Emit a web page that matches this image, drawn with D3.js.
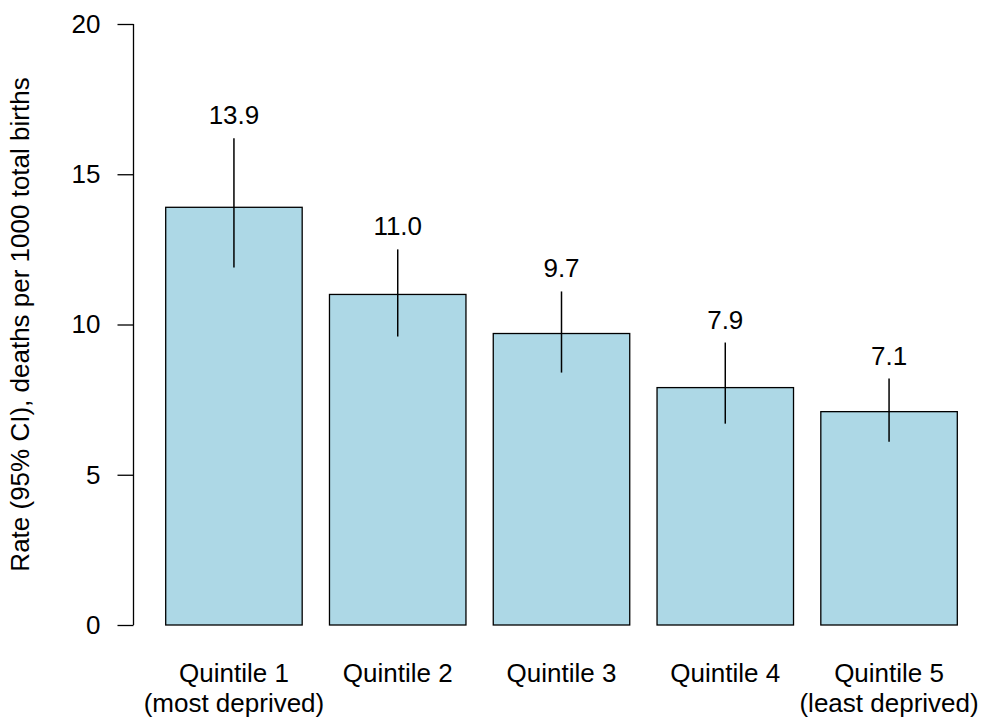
<!DOCTYPE html>
<html>
<head>
<meta charset="utf-8">
<script src="https://cdn.jsdelivr.net/npm/d3@7"></script>
<style>
  html, body { margin: 0; padding: 0; background: #fff; }
  svg text { font-family: "Liberation Sans", Arial, sans-serif; fill: #000; }
</style>
</head>
<body>
<svg id="chart" width="994" height="725"></svg>
<script>
const categories = ["Quintile 1\n(most deprived)", "Quintile 2", "Quintile 3", "Quintile 4", "Quintile 5\n(least deprived)"];
const rates = [13.9, 11.0, 9.7, 7.9, 7.1];
const lowerCI = [11.9, 9.6, 8.4, 6.7, 6.1];
const upperCI = [16.2, 12.5, 11.1, 9.4, 8.2];
const rateLabels = ["13.9", "11.0", "9.7", "7.9", "7.1"];
const yTicks = [0, 5, 10, 15, 20];
const yTitle = "Rate (95% CI), deaths per 1000 total births";

const svg = d3.select("#chart");
const fontSize = 26;

const x = d3.scaleBand()
  .domain(d3.range(categories.length))
  .range([165.7, 957.3])
  .paddingInner(1 / 6)
  .paddingOuter(0);

const y = d3.scaleLinear().domain([0, 20]).range([625, 24]);

// y axis
const yAxis = d3.axisLeft(y).tickValues(yTicks).tickSize(16).tickPadding(17).tickFormat(d3.format("d"));
const gy = svg.append("g").attr("transform", "translate(133.5,0)").call(yAxis);
gy.select(".domain").attr("d", `M0,${y(0)}V${y(20)}`).attr("stroke", "#000").attr("stroke-width", 1.3);
gy.selectAll(".tick line").attr("stroke", "#000").attr("stroke-width", 1.3);
gy.selectAll(".tick text").attr("font-size", fontSize).attr("font-family", "Liberation Sans, Arial, sans-serif").attr("fill", "#000");

// y title
svg.append("text")
  .attr("transform", `translate(29,${(y(0) + y(20)) / 2}) rotate(-90)`)
  .attr("text-anchor", "middle")
  .attr("font-size", fontSize)
  .text(yTitle);

// bars
svg.append("g").selectAll("rect")
  .data(rates)
  .join("rect")
  .attr("x", (d, i) => x(i))
  .attr("y", d => y(d))
  .attr("width", x.bandwidth())
  .attr("height", d => y(0) - y(d))
  .attr("fill", "#ADD8E6")
  .attr("stroke", "#000")
  .attr("stroke-width", 1.3);

// error bars
svg.append("g").selectAll("line")
  .data(rates)
  .join("line")
  .attr("x1", (d, i) => x(i) + x.bandwidth() / 2)
  .attr("x2", (d, i) => x(i) + x.bandwidth() / 2)
  .attr("y1", (d, i) => y(lowerCI[i]))
  .attr("y2", (d, i) => y(upperCI[i]))
  .attr("stroke", "#000")
  .attr("stroke-width", 1.5);

// value labels
svg.append("g").selectAll("text")
  .data(rateLabels)
  .join("text")
  .attr("x", (d, i) => x(i) + x.bandwidth() / 2)
  .attr("y", (d, i) => y(upperCI[i]) - 14)
  .attr("text-anchor", "middle")
  .attr("font-size", fontSize)
  .text(d => d);

// x labels
const xl = svg.append("g").selectAll("text")
  .data(categories)
  .join("text")
  .attr("x", (d, i) => x(i) + x.bandwidth() / 2)
  .attr("y", 682)
  .attr("text-anchor", "middle")
  .attr("font-size", fontSize);
xl.each(function(d) {
  const t = d3.select(this);
  const cx = t.attr("x");
  d.split("\n").forEach((line, j) => {
    t.append("tspan").attr("x", cx).attr("dy", j === 0 ? 0 : 30).text(line);
  });
});
</script>
</body>
</html>
